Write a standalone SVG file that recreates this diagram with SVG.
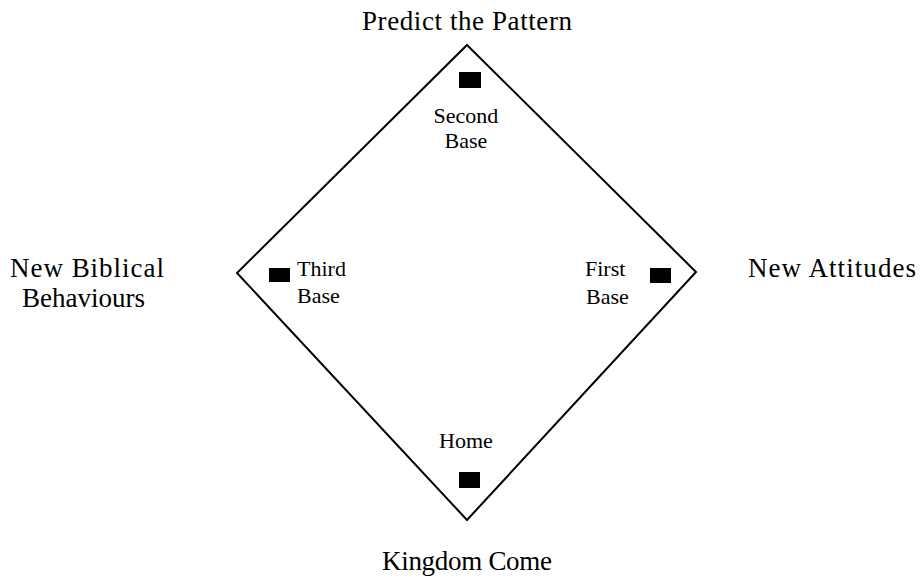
<svg xmlns="http://www.w3.org/2000/svg" width="923" height="588" viewBox="0 0 923 588">
<style>
.big{font-family:"Liberation Serif","Times New Roman",serif;font-size:27px;fill:#000}
.small{font-family:"Liberation Serif","Times New Roman",serif;font-size:22px;fill:#000}
.line{fill:none;stroke:#000;stroke-width:2}
.base{fill:#000}
</style>
<rect width="923" height="588" fill="#fff"/>
<g id="connectors">
<path class="line" d="M467,45 L696,272 L467,520 L237,273 Z"/>
</g>
<g id="second-base">
<rect class="base" x="459" y="72" width="22" height="16"/>
<text class="small" x="466" y="123" text-anchor="middle">Second</text>
<text class="small" x="466" y="148" text-anchor="middle">Base</text>
</g>
<g id="third-base">
<rect class="base" x="269" y="268" width="21" height="14"/>
<text class="small" x="297" y="276">Third</text>
<text class="small" x="297" y="303">Base</text>
</g>
<g id="first-base">
<rect class="base" x="650" y="268" width="21" height="15"/>
<text class="small" x="585" y="276">First</text>
<text class="small" x="586" y="304">Base</text>
</g>
<g id="home">
<rect class="base" x="459" y="472" width="21" height="16"/>
<text class="small" x="466" y="448" text-anchor="middle">Home</text>
</g>
<g id="predict-the-pattern">
<text class="big" x="467" y="30" text-anchor="middle" textLength="210">Predict the Pattern</text>
</g>
<g id="new-biblical-behaviours">
<text class="big" x="10" y="277" textLength="154">New Biblical</text>
<text class="big" x="22" y="307" textLength="123">Behaviours</text>
</g>
<g id="new-attitudes">
<text class="big" x="748" y="277" textLength="168">New Attitudes</text>
</g>
<g id="kingdom-come">
<text class="big" x="467" y="570" text-anchor="middle" textLength="170">Kingdom Come</text>
</g>
</svg>
